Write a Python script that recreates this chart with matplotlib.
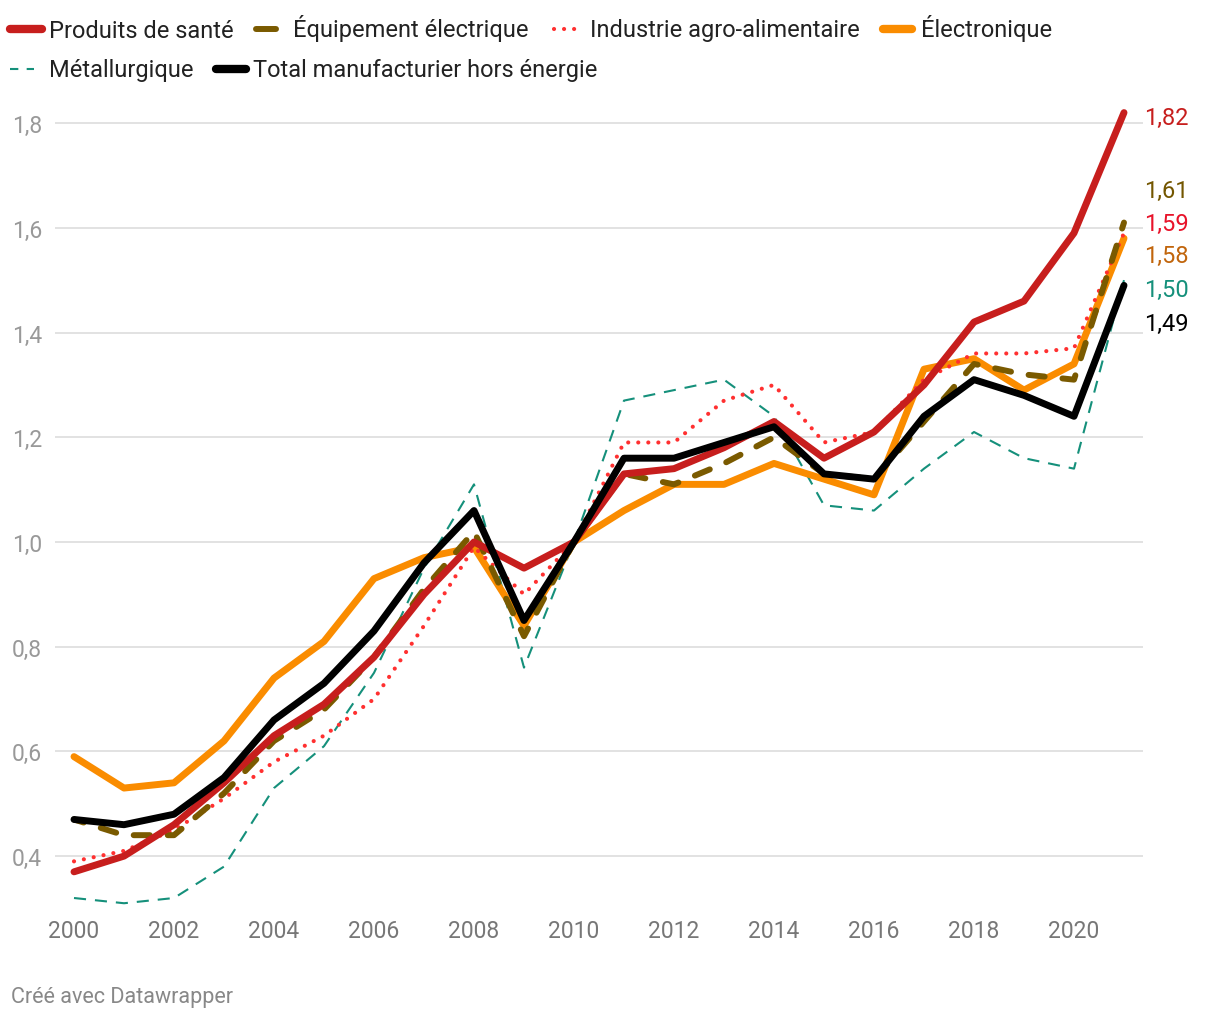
import matplotlib
matplotlib.use("Agg")
import matplotlib.pyplot as plt
from matplotlib.lines import Line2D

plt.rcParams["font.family"] = ["Roboto", "DejaVu Sans"]

# données (indice, base 1 en 2010)
annees = list(range(2000, 2022))
sante = [0.37, 0.40, 0.46, 0.54, 0.63, 0.69, 0.78, 0.90, 1.00, 0.95, 1.00,
         1.13, 1.14, 1.18, 1.23, 1.16, 1.21, 1.30, 1.42, 1.46, 1.59, 1.82]
equipement = [0.47, 0.44, 0.44, 0.52, 0.62, 0.68, 0.78, 0.91, 1.02, 0.82, 1.00,
              1.13, 1.11, 1.15, 1.20, 1.13, 1.12, 1.23, 1.34, 1.32, 1.31, 1.61]
agro = [0.39, 0.41, 0.45, 0.51, 0.58, 0.63, 0.70, 0.84, 0.99, 0.90, 1.00,
        1.19, 1.19, 1.27, 1.30, 1.19, 1.21, 1.31, 1.36, 1.36, 1.37, 1.59]
electronique = [0.59, 0.53, 0.54, 0.62, 0.74, 0.81, 0.93, 0.97, 0.99, 0.84, 1.00,
                1.06, 1.11, 1.11, 1.15, 1.12, 1.09, 1.33, 1.35, 1.29, 1.34, 1.58]
metallurgique = [0.32, 0.31, 0.32, 0.38, 0.53, 0.61, 0.75, 0.95, 1.11, 0.76, 1.00,
                 1.27, 1.29, 1.31, 1.24, 1.07, 1.06, 1.14, 1.21, 1.16, 1.14, 1.50]
total = [0.47, 0.46, 0.48, 0.55, 0.66, 0.73, 0.83, 0.96, 1.06, 0.85, 1.00,
         1.16, 1.16, 1.19, 1.22, 1.13, 1.12, 1.24, 1.31, 1.28, 1.24, 1.49]

noms = ["Produits de santé", "Équipement électrique", "Industrie agro-alimentaire",
        "Électronique", "Métallurgique", "Total manufacturier hors énergie"]
yticks = [0.4, 0.6, 0.8, 1.0, 1.2, 1.4, 1.6, 1.8]
xticks = list(range(2000, 2021, 2))

W, H = 1220, 1020


def fx(x):
    return x / W


def fy(y):
    return 1 - y / H


fig = plt.figure(figsize=(W / 100, H / 100), dpi=100)
ax = fig.add_axes([fx(55), fy(910), fx(1088), 810 / H])

# style des séries : couleur, largeur, tirets, zorder, couleur de l'étiquette
styles = [
    dict(series=sante, color="#c71e1d", lw=5, dashes=None, z=5, lab="#c71e1d"),
    dict(series=equipement, color="#7a5a00", lw=4.3, dashes=(1.0, (2.7, 3.0)), z=4, lab="#735600"),
    dict(series=agro, color="#ff3030", lw=3.0, dashes=(0, (0.01, 2.4)), z=3, lab="#e8132a"),
    dict(series=electronique, color="#fa8c00", lw=5, dashes=None, z=2, lab="#c1650c"),
    dict(series=metallurgique, color="#15907b", lw=1.5, dashes=(0, (5.8, 4.3)), z=1, lab="#15907b"),
    dict(series=total, color="#000000", lw=5, dashes=None, z=6, lab="#000000"),
]
label_y = [1.810, 1.671, 1.608, 1.547, 1.482, 1.417]

for st, ly in zip(styles, label_y):
    line, = ax.plot(annees, st["series"], color=st["color"], lw=st["lw"],
                    zorder=st["z"], solid_joinstyle="round", solid_capstyle="round",
                    dash_joinstyle="round")
    if st["dashes"] is not None:
        line.set_linestyle(st["dashes"])
        line.set_dash_capstyle("round" if st["color"] != "#15907b" else "butt")
    ax.text(2021.4, ly, f"{st['series'][-1]:.2f}".replace(".", ","),
            color=st["lab"], fontsize=17, va="center", ha="left", clip_on=False)

ax.set_xlim(1999.62, 2021.38)
ax.set_ylim(0.299, 1.846)
ax.set_yticks(yticks)
ax.set_yticklabels([f"{v:.1f}".replace(".", ",") for v in yticks])
ax.set_xticks(xticks)
ax.set_xticklabels([str(x) for x in xticks])
ax.tick_params(axis="y", length=0, pad=31, labelsize=16.5, labelcolor="#999999")
for t in ax.get_yticklabels():
    t.set_horizontalalignment("left")
ax.tick_params(axis="x", length=0, pad=7, labelsize=16.5, labelcolor="#777777")
ax.grid(axis="y", color="#e2e2e2", lw=1.4)
ax.set_axisbelow(True)
for s in ax.spines.values():
    s.set_visible(False)

# légende (dessinée à la main, disposition en flux)
leg = [
    (0, 10, 42, 49, 30),
    (1, 256, 276, 293, 30),
    (2, 554, 583, 590, 30),
    (3, 883, 912, 921, 30),
    (4, 10, 34, 49, 70),
    (5, 216, 246, 253, 70),
]
for i, x0, x1, xt, y in leg:
    st = styles[i]
    ln = Line2D([fx(x0), fx(x1)], [fy(y), fy(y)], transform=fig.transFigure,
                color=st["color"], lw=st["lw"] if i not in (0, 3, 5) else 6,
                solid_capstyle="round")
    if i == 2:
        ln.set_dashes((0.01, 2.4))
        ln.set_dash_capstyle("round")
    elif i == 4:
        ln.set_dashes((4.0, 4.0))
    fig.add_artist(ln)
    fig.text(fx(xt), fy(y + 7.5), noms[i], fontsize=17, color="#222222",
             va="baseline", ha="left")

fig.text(fx(11), fy(1003), "Créé avec Datawrapper", fontsize=15.5, color="#888888",
         va="baseline", ha="left")

fig.savefig("out.png", dpi=100, facecolor="white")
